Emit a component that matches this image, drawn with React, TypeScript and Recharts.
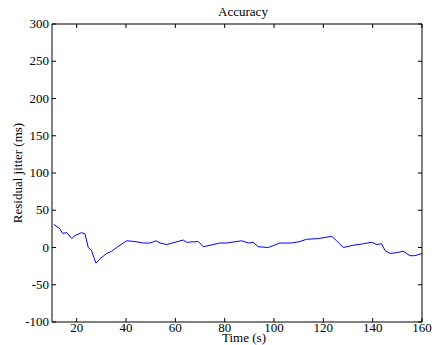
import { Line, LineChart, XAxis, YAxis } from "recharts";

const TIME = [
  10.8, 13.2, 14.3, 16, 18, 19.3, 22, 23.4, 24.7, 26, 27.8, 29.5, 32.2, 34.2, 36.2, 40.3, 43.6, 47, 49.7,
  52.2, 53.8, 56.5, 63.2, 64.6, 69.3, 71.3, 78.1, 80.8, 86.9, 89.6, 91.6, 93.6, 97.7, 102.4, 107.2, 110.5,
  113.2, 118, 123.4, 125.4, 128.1, 132.1, 136.2, 139.6, 141.6, 143.6, 145, 147, 149.7, 152.4, 155.1, 157.1,
  160,
];
const JITTER = [
  31, 25, 19, 20, 12, 16, 20, 18, 0, -4, -21, -15, -8, -5, 0, 9, 8, 6, 6, 9, 6, 4, 10, 7, 8, 1, 6, 6, 9, 6,
  7, 1, 0, 6, 6, 8, 11, 12, 15, 9, 0, 3, 5, 7, 4, 5, -4, -8, -7, -5, -11, -11, -8,
];
const X_TICKS = [20, 40, 60, 80, 100, 120, 140, 160];
const Y_TICKS = [-100, -50, 0, 50, 100, 150, 200, 250, 300];

const data = TIME.map((t, i) => ({ t, v: JITTER[i] }));

const FONT = "Liberation Serif, Times New Roman, serif";
const TICK_LEN = 4;

function BottomTick(props: any) {
  const { x, y, payload } = props;
  return (
    <g>
      <line x1={x} y1={y} x2={x} y2={y - TICK_LEN} stroke="#000" />
      <text x={x} y={y + 10} textAnchor="middle" fontFamily={FONT} fontSize={13} fill="#000">
        {payload.value}
      </text>
    </g>
  );
}

function TopTick(props: any) {
  const { x, y } = props;
  return <line x1={x} y1={y} x2={x} y2={y + TICK_LEN} stroke="#000" />;
}

function LeftTick(props: any) {
  const { x, y, payload } = props;
  return (
    <g>
      <line x1={x} y1={y} x2={x + TICK_LEN} y2={y} stroke="#000" />
      <text x={x - 3} y={y + 4} textAnchor="end" fontFamily={FONT} fontSize={13} fill="#000">
        {payload.value}
      </text>
    </g>
  );
}

function RightTick(props: any) {
  const { x, y } = props;
  return <line x1={x} y1={y} x2={x - TICK_LEN} y2={y} stroke="#000" />;
}

const txt: React.CSSProperties = {
  position: "absolute",
  fontFamily: FONT,
  fontSize: 13,
  color: "#000",
  whiteSpace: "nowrap",
  lineHeight: 1,
};

export default function App() {
  return (
    <div style={{ position: "absolute", left: 0, top: 0, width: 434, height: 345, background: "#fff", fontFamily: FONT }}>
      <style>{`.recharts-wrapper text { font-family: ${FONT}; }`}</style>
      <LineChart
        width={434}
        height={345}
        data={data}
        margin={{ top: 23, right: 11, bottom: 0, left: 0 }}
      >
        <XAxis
          xAxisId="b"
          dataKey="t"
          type="number"
          domain={[10, 160]}
          ticks={X_TICKS}
          height={23}
          tickSize={0}
          tickMargin={0}
          tickLine={false}
          axisLine={{ stroke: "#000" }}
          tick={(p: any) => <BottomTick {...p} />}
          interval={0}
        />
        <XAxis
          xAxisId="t"
          orientation="top"
          dataKey="t"
          type="number"
          domain={[10, 160]}
          ticks={X_TICKS}
          height={1}
          tickSize={0}
          tickMargin={0}
          tickLine={false}
          axisLine={{ stroke: "#000" }}
          tick={(p: any) => <TopTick {...p} />}
          interval={0}
        />
        <YAxis
          yAxisId="l"
          type="number"
          domain={[-100, 300]}
          ticks={Y_TICKS}
          width={52}
          tickSize={0}
          tickMargin={0}
          tickLine={false}
          axisLine={{ stroke: "#000" }}
          tick={(p: any) => <LeftTick {...p} />}
          interval={0}
        />
        <YAxis
          yAxisId="r"
          orientation="right"
          type="number"
          domain={[-100, 300]}
          ticks={Y_TICKS}
          width={1}
          tickSize={0}
          tickMargin={0}
          tickLine={false}
          axisLine={{ stroke: "#000" }}
          tick={(p: any) => <RightTick {...p} />}
          interval={0}
        />
        {/* invisible series so the mirrored top/right axes get drawn */}
        <Line
          xAxisId="t"
          yAxisId="r"
          dataKey="v"
          stroke="none"
          dot={false}
          activeDot={false}
          isAnimationActive={false}
        />
        <Line
          xAxisId="b"
          yAxisId="l"
          dataKey="v"
          type="linear"
          stroke="#0000ff"
          strokeWidth={1}
          dot={false}
          isAnimationActive={false}
        />
      </LineChart>
      <div style={{ ...txt, left: 243, top: 5, transform: "translateX(-50%)" }}>Accuracy</div>
      <div style={{ ...txt, left: 244, top: 331, transform: "translateX(-50%)" }}>Time (s)</div>
      <div
        style={{
          ...txt,
          left: 17,
          top: 173,
          transform: "translate(-50%, -50%) rotate(-90deg)",
        }}
      >
        Residual jitter (ms)
      </div>
    </div>
  );
}
